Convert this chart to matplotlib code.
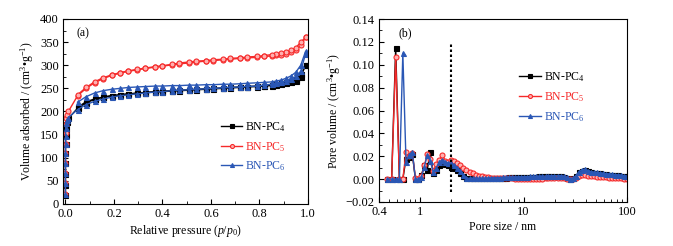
import matplotlib
matplotlib.use("Agg")
import matplotlib.pyplot as plt
from matplotlib.ticker import MultipleLocator, FixedLocator, NullFormatter, LogLocator

plt.rcParams['font.family'] = ['Liberation Serif', 'DejaVu Serif']
plt.rcParams['mathtext.fontset'] = 'custom'
plt.rcParams['mathtext.rm'] = 'Liberation Serif'
plt.rcParams['mathtext.it'] = 'Liberation Serif:italic'
plt.rcParams['font.size'] = 8.5

# ---------------- (a) isotherms ----------------
p_ads = [0.00001, 0.00003, 0.00006, 0.0001, 0.0002, 0.0004, 0.0008, 0.0015, 0.003, 0.006,
         0.012, 0.05, 0.085, 0.12, 0.155, 0.19, 0.225, 0.26, 0.295, 0.33,
         0.37, 0.40, 0.44, 0.47, 0.51, 0.54, 0.58, 0.61, 0.65, 0.68,
         0.72, 0.75, 0.79, 0.82, 0.85, 0.87, 0.89, 0.91, 0.93, 0.95,
         0.97, 0.99]
p_des = [0.99, 0.97, 0.95, 0.93, 0.91, 0.89, 0.87, 0.85, 0.82, 0.79,
         0.75, 0.72, 0.68, 0.65, 0.61, 0.58, 0.54, 0.51, 0.47, 0.44,
         0.40, 0.37, 0.33, 0.295, 0.26, 0.225, 0.19, 0.155, 0.12, 0.085,
         0.05]

pc4_ads = [20, 42, 65, 88, 110, 130, 150, 163, 172, 178,
           185, 207, 219, 226, 231, 234, 236, 238, 239, 241,
           242, 243, 244, 245, 246, 247, 248, 249, 250, 251,
           252, 253, 254, 255, 256, 258, 259, 261, 263, 267,
           275, 300]
pc4_des = [300, 280, 270, 266, 263, 261, 259, 258, 256, 255,
           254, 253, 252, 251, 250, 249, 248, 247, 246, 245,
           244, 243, 241, 240, 238, 236, 234, 231, 227, 221,
           209]
pc5_ads = [22, 45, 66, 88, 110, 130, 153, 172, 185, 193,
           200, 234, 250, 262, 271, 278, 283, 287, 290, 293,
           296, 298, 301, 303, 305, 307, 309, 310, 312, 313,
           315, 316, 317, 319, 320, 322, 323, 325, 328, 333,
           343, 360]
pc5_des = [360, 350, 338, 332, 329, 327, 325, 323, 321, 319,
           318, 316, 315, 313, 312, 310, 309, 307, 305, 302,
           299, 297, 294, 291, 288, 284, 279, 273, 264, 252,
           236]
pc6_ads = [22, 45, 66, 88, 110, 130, 148, 165, 176, 182,
           187, 204, 215, 222, 227, 231, 234, 236, 238, 240,
           242, 243, 245, 246, 247, 248, 249, 250, 251, 252,
           253, 254, 255, 257, 259, 261, 263, 266, 270, 276,
           287, 325]
pc6_des = [330, 300, 285, 277, 272, 268, 266, 264, 263, 262,
           261, 260, 259, 259, 258, 258, 257, 257, 256, 256,
           255, 255, 254, 253, 252, 250, 248, 245, 240, 232,
           220]

# ---------------- (b) pore size distribution ----------------
pore_size = [0.48, 0.53, 0.58, 0.63, 0.68, 0.73, 0.78, 0.84, 0.90, 0.96,
             1.03, 1.10, 1.17, 1.25, 1.34, 1.43, 1.53, 1.64, 1.75, 1.87,
             2.00, 2.14, 2.29, 2.45, 2.62, 2.80, 3.00, 3.21, 3.43, 3.67,
             3.93, 4.20, 4.50, 4.81, 5.15, 5.51, 5.89, 6.30, 6.75, 7.22,
             7.72, 8.26, 8.84, 9.46, 10.1, 10.8, 11.6, 12.4, 13.3, 14.2,
             15.2, 16.3, 17.4, 18.6, 19.9, 21.3, 22.8, 24.4, 26.1, 27.9,
             29.9, 32.0, 34.2, 36.6, 39.2, 41.9, 44.9, 48.0, 51.4, 55.0,
             58.8, 62.9, 67.3, 72.0, 77.1, 82.5, 88.3, 94.4, 100]
psd_pc4 = [0, 0, 0.115, 0, 0, 0.018, 0.019, 0.022, 0, 0,
           0.004, 0.012, 0.008, 0.024, 0.005, 0.008, 0.012, 0.015, 0.013, 0.012,
           0.011, 0.010, 0.008, 0.005, 0.003, 0.001, 0.0007, 0.0007, 0.0007, 0.0007,
           0.0007, 0.0008, 0.0009, 0.001, 0.0011, 0.0012, 0.0013, 0.0013, 0.0014, 0.0015,
           0.0016, 0.0017, 0.0018, 0.0018, 0.0019, 0.002, 0.0021, 0.0021, 0.0022, 0.0023,
           0.0024, 0.0025, 0.0026, 0.0027, 0.0027, 0.0028, 0.0027, 0.0022, 0.0013, 0.0004,
           0.0007, 0.0027, 0.0058, 0.0074, 0.0078, 0.0068, 0.0058, 0.0054, 0.0052, 0.005,
           0.0045, 0.0043, 0.004, 0.0038, 0.0036, 0.0033, 0.003, 0.0027, 0.0025]
psd_pc5 = [0, 0, 0.1065, 0, 0, 0.024, 0.020, 0.023, 0.001, 0,
           0.003, 0.012, 0.022, 0.018, 0.007, 0.013, 0.017, 0.021, 0.016, 0.015,
           0.017, 0.016, 0.014, 0.012, 0.010, 0.008, 0.0065, 0.005, 0.004, 0.003,
           0.0025, 0.002, 0.0015, 0.0012, 0.001, 0.001, 0.0008, 0.0008, 0.0007, 0.0007,
           0.0006, 0.0005, 0.0005, 0.0004, 0.0003, 0.0003, 0.0003, 0.0003, 0.0003, 0.0004,
           0.0005, 0.0006, 0.0007, 0.0008, 0.0009, 0.001, 0.0009, 0.0008, 0.0005, 0.0002,
           0.0003, 0.0012, 0.0025, 0.0035, 0.0036, 0.003, 0.0025, 0.0023, 0.0022, 0.002,
           0.0018, 0.0016, 0.0014, 0.0012, 0.001, 0.0008, 0.0006, 0.0003, 0.0001]
psd_pc6 = [0, 0, 0, 0, 0.110, 0.015, 0.021, 0.024, 0, 0,
           0.002, 0.011, 0.021, 0.016, 0.006, 0.010, 0.015, 0.017, 0.015, 0.014,
           0.014, 0.012, 0.010, 0.007, 0.004, 0.001, 0.0007, 0.0007, 0.0007, 0.0007,
           0.0008, 0.0009, 0.001, 0.0011, 0.0012, 0.0013, 0.0014, 0.0015, 0.0016, 0.0017,
           0.0018, 0.0019, 0.002, 0.002, 0.0021, 0.0022, 0.0023, 0.0023, 0.0024, 0.0025,
           0.0026, 0.0027, 0.0028, 0.003, 0.003, 0.0031, 0.003, 0.0025, 0.0015, 0.0005,
           0.0008, 0.003, 0.0065, 0.0082, 0.0086, 0.0075, 0.0065, 0.006, 0.0058, 0.0055,
           0.005, 0.0048, 0.0045, 0.0042, 0.004, 0.0037, 0.0034, 0.003, 0.0028]

labels = ['BN-PC$_4$', 'BN-PC$_5$', 'BN-PC$_6$']
colors = ['#000000', '#f52a2a', '#2a57b5']
face = ['#000000', '#ffb0b0', '#2a57b5']
markers = ['s', 'o', '^']

fig = plt.figure(figsize=(6.73, 2.46), dpi=100)
ax1 = fig.add_axes([63/673, 1-204/246, 245/673, 185/246])
ax2 = fig.add_axes([379/673, 1-202/246, 248/673, 183/246])

ms = 3.6
lw = 1.0
ads = [pc4_ads, pc5_ads, pc6_ads]
des = [pc4_des, pc5_des, pc6_des]
handles = []
for i in range(3):
    h, = ax1.plot(p_ads, ads[i], color=colors[i], marker=markers[i], ms=ms, lw=lw,
                  mfc=face[i], mec=colors[i], mew=0.8, label=labels[i])
    ax1.plot(p_des, des[i], color=colors[i], marker=markers[i], ms=ms, lw=lw,
             mfc=face[i], mec=colors[i], mew=0.8)
    handles.append(h)

ax1.set_xlim(-0.01, 1.0)
ax1.set_ylim(0, 400)
ax1.xaxis.set_major_locator(MultipleLocator(0.2))
ax1.xaxis.set_minor_locator(MultipleLocator(0.1))
ax1.yaxis.set_major_locator(MultipleLocator(50))
ax1.yaxis.set_minor_locator(MultipleLocator(25))
ax1.xaxis.set_major_formatter(matplotlib.ticker.FormatStrFormatter('%.1f'))
ax1.set_xlabel('Relative pressure ($p$/$p_0$)', labelpad=2)
ax1.set_ylabel('Volume adsorbed / (cm$^3$•g$^{-1}$)', labelpad=3)
ax1.text(0.057, 0.924, '(a)', transform=ax1.transAxes, ha='left', va='center')
leg1 = ax1.legend(handles=handles, loc='center left', bbox_to_anchor=(0.645, 0.31),
                  frameon=False, borderpad=0, borderaxespad=0, handlelength=1.8,
                  handletextpad=0.25, labelspacing=0.5, markerscale=0.8)
for t, c in zip(leg1.get_texts(), colors):
    t.set_color(c)

psd = [psd_pc4, psd_pc5, psd_pc6]
handles2 = []
for i in range(3):
    h, = ax2.plot(pore_size, psd[i], color=colors[i], marker=markers[i], ms=ms, lw=lw,
                  mfc=face[i], mec=colors[i], mew=0.8, label=labels[i])
    handles2.append(h)
ax2.plot([2, 2], [-0.011, 0.119], color='black', ls=(0, (1.2, 1.2)), lw=1.5)
ax2.set_xscale('log')
ax2.set_xlim(0.4, 100)
ax2.set_ylim(-0.02, 0.14)
ax2.xaxis.set_major_locator(FixedLocator([0.4, 1, 10, 100]))
ax2.xaxis.set_major_formatter(matplotlib.ticker.FixedFormatter(['0.4', '1', '10', '100']))
ax2.xaxis.set_minor_locator(LogLocator(base=10, subs=range(2, 10)))
ax2.xaxis.set_minor_formatter(NullFormatter())
ax2.yaxis.set_major_locator(MultipleLocator(0.02))
ax2.yaxis.set_minor_locator(MultipleLocator(0.01))
ax2.yaxis.set_major_formatter(matplotlib.ticker.FuncFormatter(
    lambda v, pos: ('\u2212%.2f' % abs(v)) if v < -1e-9 else '%.2f' % abs(v)))
ax2.set_xlabel('Pore size / nm', labelpad=2)
ax2.set_ylabel('Pore volume / (cm$^3$•g$^{-1}$)', labelpad=2)
ax2.text(0.077, 0.923, '(b)', transform=ax2.transAxes, ha='left', va='center')
leg2 = ax2.legend(handles=handles2, loc='center left', bbox_to_anchor=(0.566, 0.574),
                  frameon=False, borderpad=0, borderaxespad=0, handlelength=1.8,
                  handletextpad=0.25, labelspacing=0.5, markerscale=0.8)
for t, c in zip(leg2.get_texts(), colors):
    t.set_color(c)

for ax in (ax1, ax2):
    ax.tick_params(which='both', direction='in', top=False, right=False, labelsize=9, pad=3)
    ax.tick_params(which='major', length=3.5, width=0.8)
    ax.tick_params(which='minor', length=2, width=0.6)
    for s in ax.spines.values():
        s.set_linewidth(0.8)

fig.savefig('out.png', dpi=100)
